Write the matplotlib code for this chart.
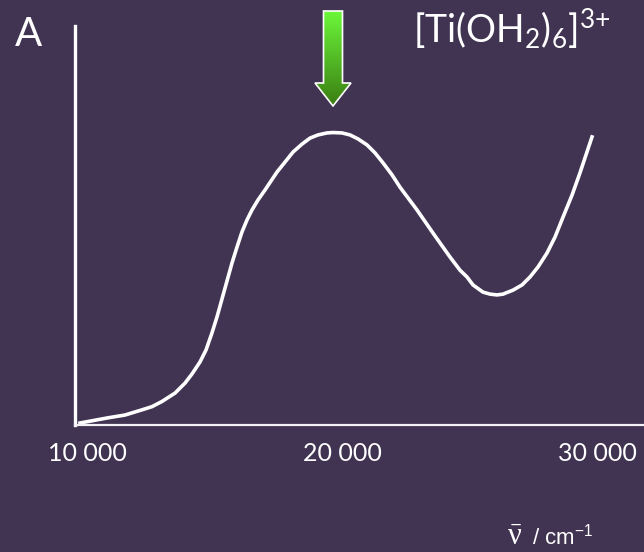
import numpy as np
import matplotlib
matplotlib.use("Agg")
import matplotlib.pyplot as plt
from matplotlib.patches import Polygon

plt.rcParams['font.family'] = ['Lato', 'DejaVu Sans']
plt.rcParams['mathtext.default'] = 'regular'

BG = '#413352'

# absorption band of [Ti(OH2)6]3+ (arbitrary absorbance units)
wavenumber = [9725, 10824, 11490, 12157, 12549, 12941, 13451, 13843, 14118, 14431,
              14667, 14902, 15098, 15294, 15490, 15686, 15882, 16078, 16275, 16471,
              16706, 16980, 17451, 17765, 18078, 18431, 18745, 19059, 19412,
              19647, 20000, 20314, 20627, 20980, 21294, 21608, 21961, 22275, 22941,
              23569, 24235, 24627, 24902, 25137, 25529, 25804, 26078, 26314, 26706,
              27059, 27373, 27686, 28039, 28353, 28667, 29020, 29333, 29804]
absorbance = [0.005, 0.018, 0.025, 0.038, 0.046, 0.059, 0.080, 0.105, 0.128, 0.158,
              0.188, 0.231, 0.271, 0.316, 0.361, 0.406, 0.446, 0.484, 0.514, 0.539,
              0.564, 0.589, 0.634, 0.659, 0.684, 0.704, 0.719, 0.727, 0.732,
              0.733, 0.732, 0.727, 0.717, 0.702, 0.682, 0.657, 0.627, 0.596, 0.539,
              0.481, 0.421, 0.388, 0.371, 0.351, 0.333, 0.328, 0.326, 0.328, 0.338,
              0.351, 0.371, 0.396, 0.431, 0.471, 0.521, 0.576, 0.632, 0.722]
tick_values = [10000, 20000, 30000]
tick_labels = ["10 000", "20 000", "30 000"]
peak_wavenumber = 19647

W, H = 644, 552
fig = plt.figure(figsize=(W / 100, H / 100), dpi=100, facecolor=BG)
ax = fig.add_axes([75 / W, 127 / H, 569 / W, 399 / H])
ax.set_facecolor(BG)

ax.plot(wavenumber, absorbance, color='white', lw=2.6, solid_joinstyle='round')

ax.set_xlim(9529, 31843)
ax.set_ylim(0, 1)
for side in ('top', 'right'):
    ax.spines[side].set_visible(False)
ax.spines['left'].set_color('white')
ax.spines['left'].set_linewidth(2.4)
ax.spines['bottom'].set_color('#f4f2f6')
ax.spines['bottom'].set_linewidth(1.6)
ax.set_yticks([])
ax.set_xticks(tick_values)
ax.set_xticklabels(tick_labels)
ax.tick_params(axis='x', length=0, pad=12, labelsize=18, labelcolor='white')

fig.text(15 / W, (H - 46) / H, "A", color='white', fontsize=29, va='baseline')
fig.text(413 / W, (H - 43) / H, r"[Ti(OH$_2$)$_6$]$^{3{+}}$", color='white',
         fontsize=27, va='baseline')

fig.text(507 / W, (H - 545) / H, r"$\bar{\nu}$", color='white', fontsize=22,
         va='baseline', family='Liberation Serif')
fig.text(532 / W, (H - 545) / H, r"/ cm$^{-1}$", color='white', fontsize=16,
         va='baseline', family='Liberation Sans')

# green arrow pointing at the band maximum
fig.canvas.draw()
px = ax.transData.transform((peak_wavenumber, 0))[0]
aw, ah = 38, 97
arr_ax = fig.add_axes([(px - aw / 2) / W, (H - 107) / H, aw / W, ah / H])
arr_ax.set_xlim(0, aw)
arr_ax.set_ylim(0, ah)
arr_ax.axis('off')
shape = [(9.5, ah - 1), (28.5, ah - 1), (28.5, 24), (37, 24), (19, 1), (1, 24), (9.5, 24)]
grad = np.linspace(0, 1, 256).reshape(-1, 1)
cmap = matplotlib.colors.LinearSegmentedColormap.from_list('g', ['#3a7c12', '#6cf93a'])
img = arr_ax.imshow(grad, extent=[0, aw, 0, ah], origin='lower', cmap=cmap, aspect='auto')
outline = Polygon(shape, closed=True, facecolor='none', edgecolor='white', lw=1.2)
arr_ax.add_patch(outline)
img.set_clip_path(outline)

fig.savefig("out.png", dpi=100, facecolor=BG)
